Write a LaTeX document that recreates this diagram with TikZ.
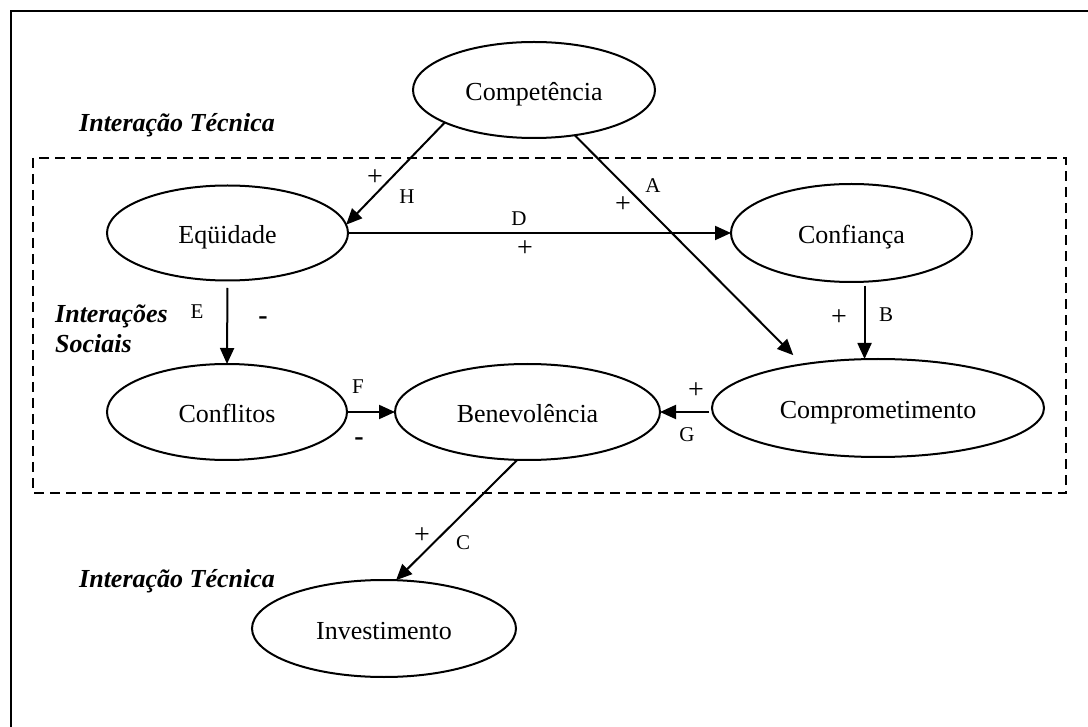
\documentclass[tikz,border=0pt]{standalone}
\usepackage{fontspec}
\setmainfont{Liberation Serif}
\usetikzlibrary{arrows.meta,shapes.geometric,calc}
\begin{document}
\begin{tikzpicture}[x=1pt,y=-1pt,
 ell/.style={draw,ellipse,line width=2pt,inner sep=0pt,outer sep=0pt,font=\fontsize{26}{31}\selectfont,text height=24pt,text depth=3pt},
 conn/.style={line width=2pt,-{Triangle[length=16pt,width=14pt]}},
 lett/.style={inner sep=0pt,font=\fontsize{21}{25}\selectfont},
 sgn/.style={inner sep=0pt,font=\fontsize{28}{33}\selectfont},
 neg/.style={inner sep=0pt,font=\fontsize{28}{33}\selectfont\bfseries},
 grp/.style={inner sep=0pt,anchor=base west,font=\fontsize{26}{31}\selectfont\bfseries\itshape}]
\useasboundingbox (0,0) rectangle (1088,727);
\draw[line width=2pt] (11,727) -- (11,11) -- (1088,11);
\draw[dash pattern=on 10pt off 6pt, line width=1.6pt] (33,158) rectangle (1066,493);

\node[ell,minimum width=242pt,minimum height=96pt] (comp) at (534,90) {Competência};
\node[ell,minimum width=241pt,minimum height=95pt] (equ) at (227.5,233) {Eqüidade};
\node[ell,minimum width=241pt,minimum height=98pt] (conf) at (851.5,233) {Confiança};
\node[ell,minimum width=332pt,minimum height=98pt] (compr) at (878,408) {Comprometimento};
\node[ell,minimum width=240pt,minimum height=96pt] (confl) at (227,412) {Conflitos};
\node[ell,minimum width=265pt,minimum height=96pt] (bene) at (527.5,412) {Benevolência};
\node[ell,minimum width=264pt,minimum height=97pt] (inv) at (384,628.5) {Investimento};

\node[grp] (g1) at (79,132) {Interação Técnica};
\node[grp] (g2) at (55,323) {Interações};
\node[grp] (g3) at (55,353) {Sociais};
\node[grp] (g4) at (79,587) {Interação Técnica};

\draw[conn] (comp.200) -- (equ.4);
\draw[conn,shorten >=13pt] (comp.312) -- (compr.150);
\draw[conn] (equ.east) -- (equ.east -| conf.west);
\draw[conn,shorten <=4pt] (conf.285) -- (conf.285 |- compr.north);
\draw[conn,shorten <=7.5pt] (equ.south) -- (confl.north);
\draw[conn] (confl.east) -- (bene.west);
\draw[conn,shorten <=3pt] (compr.west |- bene.east) -- (bene.east);
\draw[conn] (bene.258) -- (inv.76);

\node[sgn] (pH) at (375,178) {+};
\node[lett] (lH) at (407,197) {H};
\node[sgn] (pA) at (623,205) {+};
\node[lett] (lA) at (653,186) {A};
\node[lett] (lD) at (519,219) {D};
\node[sgn] (pD) at (525,249) {+};
\node[lett] (lB) at (886,315) {B};
\node[sgn] (pB) at (839,318) {+};
\node[lett] (lE) at (197,312) {E};
\node[neg] (mE) at (263,321) {-};
\node[lett] (lF) at (358,387) {F};
\node[neg] (mF) at (359,442) {-};
\node[sgn] (pG) at (696,391) {+};
\node[lett] (lG) at (687,435) {G};
\node[sgn] (pC) at (422,536) {+};
\node[lett] (lC) at (463,543) {C};
\end{tikzpicture}
\end{document}
